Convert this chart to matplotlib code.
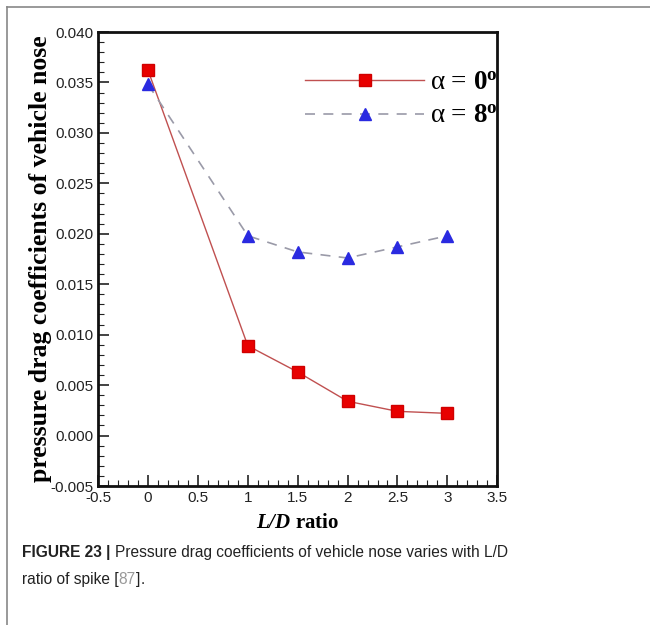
import matplotlib.pyplot as plt
from matplotlib.lines import Line2D
from matplotlib.ticker import MultipleLocator

plt.rcParams['mathtext.fontset'] = 'custom'
plt.rcParams['mathtext.rm'] = 'Liberation Serif'
plt.rcParams['mathtext.bf'] = 'Liberation Serif:bold'
plt.rcParams['mathtext.it'] = 'Liberation Serif:italic'
plt.rcParams['mathtext.bfit'] = 'Liberation Serif:italic:bold'

ld_ratio = [0, 1, 1.5, 2, 2.5, 3]
cd_alpha0 = [0.0362, 0.0089, 0.0063, 0.0034, 0.0024, 0.0022]
cd_alpha8 = [0.0348, 0.0198, 0.0182, 0.0176, 0.0187, 0.0198]

fig = plt.figure(figsize=(6.5, 6.25), dpi=100)
ax = fig.add_axes([0.151, 0.2224, 0.614, 0.7264])

ax.plot(ld_ratio, cd_alpha0, color='#c05050', lw=1.0, marker='s', ms=8.5,
        mfc='#e80000', mec='#d00000', label=r'$\mathrm{\alpha}$ = $\mathbf{0^o}$')
ax.plot(ld_ratio, cd_alpha8, color='#9a9aa8', lw=1.2, ls=(0, (6, 5)), marker='^', ms=9,
        mfc='#2a2ae0', mec='#2a2ae0', label=r'$\mathrm{\alpha}$ = $\mathbf{8^o}$')

ax.set_xlim(-0.5, 3.5)
ax.set_ylim(-0.005, 0.040)
ax.xaxis.set_major_locator(MultipleLocator(0.5))
ax.xaxis.set_minor_locator(MultipleLocator(0.1))
ax.yaxis.set_major_locator(MultipleLocator(0.005))
ax.yaxis.set_minor_locator(MultipleLocator(0.001))
ax.yaxis.set_major_formatter(plt.FormatStrFormatter('%.3f'))
ax.xaxis.set_major_formatter(plt.FuncFormatter(lambda v, p: f'{v:g}'))
ax.tick_params(which='both', direction='in', top=False, right=False,
               labelsize=11, colors='#222222')
ax.tick_params(which='major', length=8, width=1.2)
ax.tick_params(which='minor', length=4, width=0.8)
for lbl in ax.get_xticklabels() + ax.get_yticklabels():
    lbl.set_family('Liberation Sans')
for s in ax.spines.values():
    s.set_linewidth(2.0)
    s.set_color('#111111')

ax.set_ylabel('pressure drag coefficients of vehicle nose', family='Liberation Serif',
              fontweight='bold', fontsize=18.5, labelpad=-1)
ax.set_xlabel(r'$\mathbfit{L/D}$ ratio', family='Liberation Serif',
              fontweight='bold', fontsize=15, labelpad=6)

leg = ax.legend(loc='upper left', bbox_to_anchor=(0.458, 0.968), frameon=False,
                handlelength=4.4, handletextpad=0.2, labelspacing=0.3,
                prop={'family': 'Liberation Serif', 'size': 19.5})

# figure frame lines
fig.add_artist(Line2D([0.011, 1.0], [0.989, 0.989], color='#888888', lw=1.2))
fig.add_artist(Line2D([0.011, 0.011], [0.0, 0.989], color='#888888', lw=1.2))

# caption, built from pieces placed one after another
cap_font = 'Liberation Sans'
cap_size = 11.2
fig.canvas.draw()
renderer = fig.canvas.get_renderer()


def caption_line(pieces, x0, y):
    x = x0
    for txt, weight, color in pieces:
        t = fig.text(x, y, txt, family=cap_font, fontweight=weight,
                     fontsize=cap_size, color=color, va='center')
        bb = t.get_window_extent(renderer)
        x += bb.width / fig.bbox.width


caption_line([('FIGURE 23 | ', 'bold', '#222222'),
              ('Pressure drag coefficients of vehicle nose varies with L/D', 'normal', '#222222')],
             0.034, 0.116)
caption_line([('ratio of spike [', 'normal', '#222222'),
              ('87', 'normal', '#999999'),
              (']', 'normal', '#222222'),
              ('.', 'normal', '#222222')],
             0.034, 0.073)

fig.savefig('out.png', dpi=100)
